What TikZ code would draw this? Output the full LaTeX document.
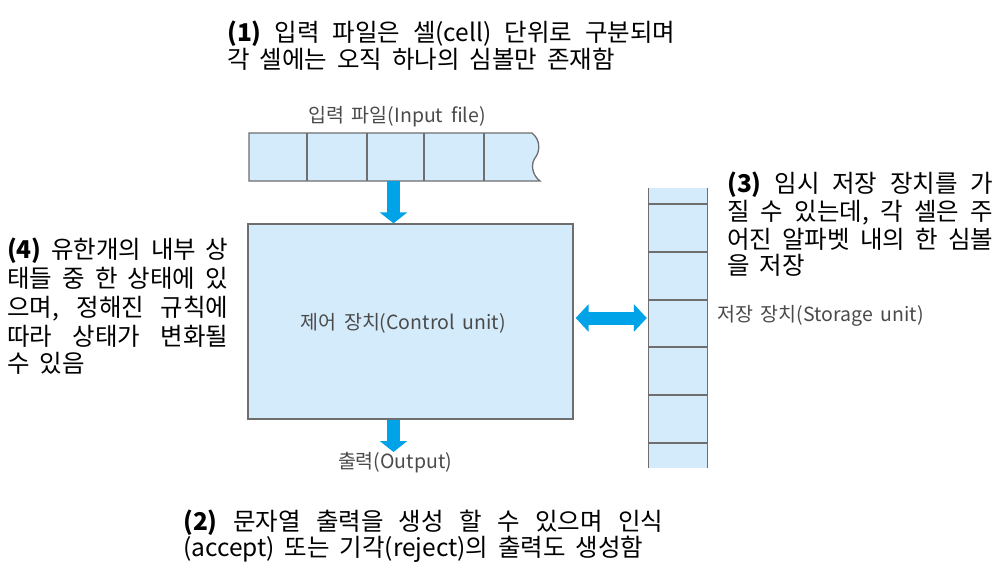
\documentclass[tikz,border=0pt]{standalone}
\usepackage{fontspec}
\setmainfont[WordSpace=1.8]{Noto Sans CJK KR}
\usetikzlibrary{arrows.meta,calc}
\definecolor{cellblue}{HTML}{D4EBFB}
\definecolor{edgegray}{HTML}{6E6E6E}
\definecolor{arrowblue}{HTML}{00A3E8}
\definecolor{labelgray}{HTML}{4A4A4A}
\begin{document}
\begin{tikzpicture}[x=1pt,y=-1pt,
  cellbox/.style={draw=edgegray, fill=cellblue, line width=1.3pt, inner sep=0pt},
  celline/.style={draw=edgegray, line width=1.3pt},
  blockarrow/.style={draw=arrowblue, line width=13pt, -{Triangle[width=27pt,length=11pt]}},
  dblarrow/.style={draw=arrowblue, line width=13pt, {Triangle[width=27pt,length=13pt]}-{Triangle[width=27pt,length=13pt]}},
  lbl/.style={text=labelgray, font=\fontsize{19.5}{22}\selectfont, inner sep=0pt},
  note/.style={text=black, font=\fontsize{24.5}{28}\selectfont, inner sep=0pt, anchor=base west}
]
\useasboundingbox (0,0) rectangle (1004,573);
\fill[white] (0,0) rectangle (1004,573);

% input tape
\node[inner sep=0pt, minimum width=289pt, minimum height=48pt] (tape) at (393.5,157) {};
\path[fill=cellblue, draw=edgegray, line width=1.3pt]
  (249,133) -- (532,133) .. controls (541,140) and (540,152) .. (535,158)
  .. controls (530,165) and (533,176) .. (540,181) -- (249,181) -- cycle;
\foreach \cx in {307,367,424,484} \draw[celline] (\cx,133) -- (\cx,181);
\node[lbl] (tapelabel) at (397,117) {입력 파일(Input file)};

% control unit
\node[cellbox, minimum width=325pt, minimum height=195pt] (ctrl) at (410.5,321.5) {};
\node[lbl] (ctrllabel) at (403,323) {제어 장치(Control unit)};

% storage
\node[fill=cellblue, inner sep=0pt, minimum width=58pt, minimum height=280pt] (store) at (678,328) {};
\draw[celline] (store.north west) -- (store.south west);
\draw[celline] (store.north east) -- (store.south east);
\foreach \cy in {204,252,300,347,395,443}
  \draw[celline] (store.west |- 0,\cy) -- (store.east |- 0,\cy);
\node[lbl, anchor=west] (storelabel) at (717,316) {저장 장치(Storage unit)};

% arrows
\draw[blockarrow] (tape.south) -- (tape.south |- ctrl.north);
\coordinate (outtip) at (393.5,452);
\draw[blockarrow] (ctrl.south -| outtip) -- (outtip);
\node[lbl] (outlabel) at (395,463) {출력(Output)};
\draw[dblarrow, shorten <=2pt, shorten >=2pt] (ctrl.east |- 0,318) -- (store.west |- 0,318);

% notes
\node[note] (n1a) at (227,41) {\makebox[448pt][s]{\textbf{(1)} 입력 파일은 셀(cell) 단위로 구분되며}};
\node[note] (n1b) at (227,68) {각 셀에는 오직 하나의 심볼만 존재함};

\node[note] (n2a) at (183,530) {\makebox[480pt][s]{\textbf{(2)} 문자열 출력을 생성 할 수 있으며 인식}};
\node[note] (n2b) at (183,556) {(accept) 또는 기각(reject)의 출력도 생성함};

\node[note] (n3a) at (727,192) {\makebox[266pt][s]{\textbf{(3)} 임시 저장 장치를 가}};
\node[note] (n3b) at (727,220) {\makebox[266pt][s]{질 수 있는데, 각 셀은 주}};
\node[note] (n3c) at (727,248) {\makebox[266pt][s]{어진 알파벳 내의 한 심볼}};
\node[note] (n3d) at (727,274) {을 저장};

\node[note] (n4a) at (7,258) {\makebox[221pt][s]{\textbf{(4)} 유한개의 내부 상}};
\node[note] (n4b) at (7,287) {\makebox[221pt][s]{태들 중 한 상태에 있}};
\node[note] (n4c) at (7,316) {\makebox[221pt][s]{으며, 정해진 규칙에}};
\node[note] (n4d) at (7,345) {\makebox[221pt][s]{따라 상태가 변화될}};
\node[note] (n4e) at (7,372) {수 있음};
\end{tikzpicture}
\end{document}
